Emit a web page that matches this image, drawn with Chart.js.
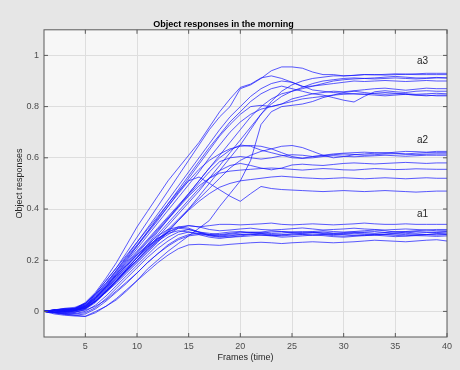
<!DOCTYPE html>
<html>
<head>
<meta charset="utf-8">
<script src="https://cdn.jsdelivr.net/npm/chart.js@4.4.1/dist/chart.umd.min.js"></script>
<style>
  html, body { margin: 0; padding: 0; background: #e6e6e6; }
  #wrap { width: 460px; height: 370px; }
</style>
</head>
<body>
<div id="wrap"><canvas id="chart" width="460" height="370"></canvas></div>
<script>
// frames 1..40
const frames = [1, 2, 3, 4, 5, 6, 7, 8, 9, 10, 11, 12, 13, 14, 15, 16, 17, 18, 19, 20,
  21, 22, 23, 24, 25, 26, 27, 28, 29, 30, 31, 32, 33, 34, 35, 36, 37, 38, 39, 40];

const xTicks = [5, 10, 15, 20, 25, 30, 35, 40];
const yTicks = [0, 0.2, 0.4, 0.6, 0.8, 1];

// group a1 - settles near 0.3
const groupA1 = [
  [0, 0.005, 0.002, 0.008, 0.02, 0.05, 0.09, 0.13, 0.17, 0.21, 0.25, 0.28, 0.31, 0.33, 0.335, 0.33, 0.335, 0.34, 0.34, 0.338, 0.34, 0.342, 0.345, 0.34, 0.338, 0.34, 0.342, 0.34, 0.338, 0.34, 0.342, 0.345, 0.342, 0.34, 0.34, 0.342, 0.34, 0.34, 0.34, 0.34],
  [0, 0.003, -0.004, 0.002, 0.015, 0.04, 0.075, 0.115, 0.16, 0.2, 0.24, 0.275, 0.3, 0.325, 0.335, 0.33, 0.32, 0.315, 0.318, 0.322, 0.325, 0.32, 0.318, 0.32, 0.323, 0.326, 0.322, 0.318, 0.32, 0.322, 0.325, 0.322, 0.32, 0.318, 0.32, 0.322, 0.32, 0.318, 0.32, 0.32],
  [0, -0.005, -0.01, -0.008, 0, 0.025, 0.06, 0.1, 0.14, 0.18, 0.22, 0.26, 0.29, 0.31, 0.32, 0.31, 0.3, 0.305, 0.31, 0.312, 0.308, 0.31, 0.315, 0.312, 0.31, 0.308, 0.312, 0.315, 0.312, 0.31, 0.312, 0.315, 0.318, 0.315, 0.31, 0.312, 0.315, 0.318, 0.315, 0.315],
  [0, 0.006, 0.01, 0.004, 0.012, 0.04, 0.08, 0.12, 0.165, 0.21, 0.25, 0.285, 0.31, 0.325, 0.32, 0.31, 0.305, 0.3, 0.305, 0.31, 0.308, 0.305, 0.31, 0.312, 0.308, 0.305, 0.308, 0.31, 0.306, 0.304, 0.308, 0.31, 0.312, 0.308, 0.305, 0.31, 0.312, 0.31, 0.308, 0.31],
  [0, -0.003, 0.002, -0.002, 0.005, 0.02, 0.045, 0.08, 0.115, 0.15, 0.19, 0.225, 0.26, 0.285, 0.3, 0.305, 0.3, 0.298, 0.302, 0.306, 0.31, 0.308, 0.304, 0.306, 0.31, 0.312, 0.31, 0.306, 0.304, 0.308, 0.31, 0.308, 0.305, 0.308, 0.312, 0.31, 0.306, 0.308, 0.31, 0.312],
  [0, 0.004, 0, 0.006, 0.018, 0.045, 0.085, 0.13, 0.175, 0.22, 0.26, 0.295, 0.32, 0.33, 0.325, 0.31, 0.295, 0.29, 0.295, 0.3, 0.302, 0.305, 0.3, 0.298, 0.302, 0.305, 0.308, 0.304, 0.3, 0.302, 0.305, 0.303, 0.3, 0.302, 0.306, 0.305, 0.302, 0.3, 0.304, 0.305],
  [0, -0.006, -0.012, -0.015, -0.01, 0.01, 0.04, 0.075, 0.11, 0.15, 0.19, 0.225, 0.255, 0.28, 0.295, 0.3, 0.298, 0.295, 0.298, 0.3, 0.302, 0.298, 0.296, 0.3, 0.303, 0.3, 0.297, 0.3, 0.302, 0.3, 0.298, 0.296, 0.298, 0.3, 0.302, 0.3, 0.298, 0.3, 0.302, 0.3],
  [0, 0.002, 0.008, 0.012, 0.025, 0.055, 0.095, 0.14, 0.18, 0.22, 0.255, 0.285, 0.305, 0.315, 0.31, 0.3, 0.29, 0.285, 0.29, 0.295, 0.3, 0.302, 0.298, 0.295, 0.298, 0.3, 0.302, 0.3, 0.296, 0.294, 0.297, 0.3, 0.302, 0.3, 0.297, 0.295, 0.298, 0.3, 0.298, 0.3],
  [0, -0.004, -0.008, -0.01, -0.005, 0.015, 0.05, 0.09, 0.13, 0.17, 0.21, 0.245, 0.275, 0.3, 0.31, 0.305, 0.298, 0.292, 0.29, 0.292, 0.295, 0.298, 0.295, 0.29, 0.292, 0.295, 0.298, 0.296, 0.292, 0.29, 0.293, 0.296, 0.298, 0.295, 0.292, 0.294, 0.296, 0.295, 0.293, 0.295],
  [0, -0.01, -0.015, -0.018, -0.02, -0.005, 0.02, 0.05, 0.085, 0.12, 0.155, 0.19, 0.22, 0.245, 0.26, 0.262, 0.26, 0.258, 0.262, 0.265, 0.268, 0.27, 0.268, 0.265, 0.268, 0.27, 0.272, 0.27, 0.268, 0.27, 0.272, 0.275, 0.278, 0.276, 0.274, 0.272, 0.275, 0.278, 0.28, 0.275]
];

// group a2 - settles between 0.47 and 0.63
const groupA2 = [
  [0, 0.004, 0.008, 0.01, 0.025, 0.06, 0.1, 0.145, 0.19, 0.235, 0.28, 0.325, 0.37, 0.415, 0.46, 0.51, 0.56, 0.6, 0.63, 0.65, 0.645, 0.63, 0.62, 0.61, 0.6, 0.598, 0.605, 0.61, 0.615, 0.618, 0.62, 0.622, 0.62, 0.618, 0.622, 0.625, 0.624, 0.622, 0.625, 0.625],
  [0, -0.004, -0.006, -0.002, 0.01, 0.04, 0.08, 0.12, 0.16, 0.2, 0.24, 0.28, 0.32, 0.36, 0.4, 0.44, 0.48, 0.52, 0.56, 0.59, 0.61, 0.625, 0.635, 0.645, 0.648, 0.64, 0.625, 0.61, 0.6, 0.605, 0.612, 0.615, 0.618, 0.62, 0.618, 0.615, 0.618, 0.62, 0.62, 0.62],
  [0, 0.006, 0.002, 0.008, 0.022, 0.055, 0.095, 0.14, 0.185, 0.23, 0.275, 0.32, 0.365, 0.41, 0.455, 0.5, 0.545, 0.585, 0.6, 0.605, 0.6, 0.595, 0.6, 0.608, 0.612, 0.61, 0.605, 0.608, 0.612, 0.615, 0.613, 0.61, 0.612, 0.615, 0.616, 0.614, 0.612, 0.614, 0.615, 0.615],
  [0, 0.002, 0.006, 0.012, 0.03, 0.065, 0.11, 0.16, 0.21, 0.26, 0.31, 0.36, 0.41, 0.46, 0.51, 0.555, 0.59, 0.615, 0.635, 0.645, 0.648, 0.645, 0.635, 0.62, 0.605, 0.598, 0.6, 0.605, 0.608, 0.606, 0.604, 0.606, 0.608, 0.61, 0.608, 0.606, 0.608, 0.61, 0.61, 0.61],
  [0, -0.004, 0, 0.004, 0.015, 0.045, 0.085, 0.125, 0.165, 0.21, 0.255, 0.3, 0.345, 0.39, 0.435, 0.48, 0.52, 0.55, 0.57, 0.578, 0.57, 0.56, 0.553, 0.56, 0.572, 0.575, 0.572, 0.57, 0.574, 0.578, 0.58, 0.578, 0.576, 0.578, 0.58, 0.582, 0.58, 0.578, 0.58, 0.58],
  [0, 0.005, 0.01, 0.006, 0.02, 0.05, 0.09, 0.135, 0.18, 0.225, 0.27, 0.315, 0.36, 0.405, 0.45, 0.49, 0.52, 0.54, 0.548, 0.552, 0.555, 0.558, 0.56, 0.558, 0.555, 0.552, 0.555, 0.558, 0.556, 0.553, 0.552, 0.555, 0.558, 0.556, 0.554, 0.555, 0.557, 0.556, 0.555, 0.555],
  [0, 0.003, -0.003, 0.002, 0.012, 0.04, 0.075, 0.115, 0.155, 0.195, 0.235, 0.275, 0.315, 0.355, 0.395, 0.43, 0.46, 0.485, 0.5, 0.51, 0.515, 0.52, 0.525, 0.528, 0.525, 0.522, 0.52, 0.518, 0.52, 0.522, 0.52, 0.518, 0.52, 0.522, 0.52, 0.518, 0.52, 0.522, 0.52, 0.52],
  [0, 0.006, 0.012, 0.016, 0.032, 0.07, 0.12, 0.17, 0.22, 0.27, 0.32, 0.37, 0.42, 0.47, 0.51, 0.525, 0.5, 0.475, 0.45, 0.43, 0.46, 0.488, 0.48, 0.476, 0.474, 0.472, 0.47, 0.468, 0.47, 0.472, 0.47, 0.468, 0.47, 0.472, 0.47, 0.468, 0.466, 0.468, 0.47, 0.47]
];

// group a3 - settles between 0.84 and 0.93
const groupA3 = [
  [0, 0.004, 0.008, 0.012, 0.03, 0.07, 0.12, 0.17, 0.23, 0.29, 0.35, 0.41, 0.47, 0.53, 0.59, 0.65, 0.71, 0.76, 0.8, 0.87, 0.885, 0.91, 0.94, 0.955, 0.955, 0.95, 0.935, 0.925, 0.925, 0.92, 0.922, 0.925, 0.924, 0.926, 0.928, 0.927, 0.928, 0.93, 0.93, 0.93],
  [0, 0.006, 0.003, 0.01, 0.035, 0.075, 0.13, 0.19, 0.26, 0.33, 0.39, 0.45, 0.51, 0.56, 0.61, 0.66, 0.72, 0.78, 0.83, 0.875, 0.888, 0.912, 0.92, 0.91, 0.895, 0.878, 0.88, 0.89, 0.9, 0.905, 0.908, 0.91, 0.908, 0.91, 0.912, 0.91, 0.908, 0.91, 0.912, 0.912],
  [0, -0.004, 0.002, 0.006, 0.02, 0.055, 0.1, 0.15, 0.2, 0.255, 0.31, 0.365, 0.42, 0.475, 0.53, 0.585, 0.64, 0.69, 0.74, 0.78, 0.82, 0.85, 0.87, 0.88, 0.87, 0.86, 0.85, 0.845, 0.835, 0.825, 0.818, 0.84, 0.858, 0.862, 0.858, 0.855, 0.86, 0.862, 0.86, 0.86],
  [0, -0.005, -0.01, -0.015, -0.019, 0, 0.02, 0.045, 0.08, 0.12, 0.165, 0.2, 0.235, 0.265, 0.295, 0.325, 0.355, 0.41, 0.46, 0.51, 0.59, 0.73, 0.78, 0.8, 0.805, 0.81, 0.82, 0.835, 0.845, 0.855, 0.86, 0.855, 0.85, 0.848, 0.85, 0.848, 0.845, 0.845, 0.842, 0.842],
  [0, 0.002, -0.002, 0.004, 0.012, 0.04, 0.08, 0.12, 0.16, 0.2, 0.245, 0.29, 0.335, 0.38, 0.425, 0.47, 0.52, 0.57, 0.62, 0.67, 0.72, 0.77, 0.81, 0.84, 0.86, 0.875, 0.89, 0.9, 0.905, 0.91, 0.912, 0.91, 0.912, 0.915, 0.918, 0.915, 0.912, 0.912, 0.914, 0.912],
  [0, 0.005, 0.01, 0.008, 0.025, 0.06, 0.105, 0.155, 0.205, 0.255, 0.305, 0.355, 0.41, 0.465, 0.52, 0.575, 0.63, 0.685, 0.73, 0.77, 0.8, 0.805, 0.8, 0.81, 0.83, 0.84, 0.85, 0.855, 0.86, 0.858, 0.862, 0.866, 0.87, 0.872, 0.868, 0.864, 0.868, 0.872, 0.87, 0.87],
  [0, -0.003, 0.004, 0.008, 0.015, 0.04, 0.075, 0.11, 0.15, 0.19, 0.23, 0.27, 0.31, 0.355, 0.4, 0.45, 0.5, 0.55, 0.6, 0.65, 0.71, 0.77, 0.82, 0.86, 0.885, 0.9, 0.91, 0.915, 0.92, 0.92, 0.922, 0.925, 0.925, 0.923, 0.925, 0.926, 0.925, 0.925, 0.925, 0.925],
  [0, 0.003, 0.006, 0.012, 0.03, 0.065, 0.11, 0.16, 0.215, 0.27, 0.325, 0.38, 0.435, 0.49, 0.545, 0.6, 0.655, 0.71, 0.76, 0.8, 0.84, 0.87, 0.89, 0.9, 0.895, 0.88, 0.865, 0.86, 0.855, 0.852, 0.85, 0.848, 0.852, 0.855, 0.852, 0.85, 0.848, 0.85, 0.852, 0.85],
  [0, -0.002, -0.006, -0.004, 0.008, 0.035, 0.075, 0.12, 0.165, 0.21, 0.26, 0.31, 0.36, 0.41, 0.46, 0.51, 0.56, 0.61, 0.66, 0.71, 0.76, 0.8, 0.83, 0.85, 0.86, 0.87, 0.88, 0.885, 0.89, 0.895, 0.9, 0.898, 0.9, 0.902, 0.9, 0.898, 0.9, 0.902, 0.9, 0.9],
  [0, 0.004, 0, 0.003, 0.018, 0.05, 0.095, 0.145, 0.195, 0.245, 0.295, 0.345, 0.395, 0.445, 0.495, 0.545, 0.6, 0.65, 0.7, 0.74, 0.77, 0.79, 0.8, 0.81, 0.82, 0.83, 0.835, 0.84, 0.845, 0.848, 0.85, 0.848, 0.845, 0.842, 0.845, 0.848, 0.845, 0.842, 0.845, 0.845]
];

// text labels placed in data coordinates
const groupNames = ['a1', 'a2', 'a3'];
const groupLabelX = [37.1, 37.1, 37.1];
const groupLabelY = [0.378, 0.669, 0.979];

const lineColor = 'rgba(20, 20, 255, 0.7)';
const axisColor = '#5a5a5a';
const fontFamily = '"Liberation Sans", Arial, Helvetica, sans-serif';

const makeDataset = (values) => ({
  data: values,
  borderColor: lineColor,
  borderWidth: 1,
  pointRadius: 0,
  fill: false,
  tension: 0,
});

const datasets = [...groupA1, ...groupA2, ...groupA3].map(makeDataset);

// grey figure, light axes background, box with inward ticks, group labels
const matlabFrame = {
  id: 'matlabFrame',
  beforeDraw(chart) {
    const {ctx, chartArea: a} = chart;
    ctx.save();
    ctx.fillStyle = '#e6e6e6';
    ctx.fillRect(0, 0, chart.width, chart.height);
    ctx.fillStyle = '#f7f7f7';
    ctx.fillRect(a.left, a.top, a.right - a.left, a.bottom - a.top);
    ctx.restore();
  },
  afterDraw(chart) {
    const {ctx, chartArea: a, scales} = chart;
    const tick = 4;
    ctx.save();
    ctx.strokeStyle = axisColor;
    ctx.lineWidth = 1;
    ctx.strokeRect(a.left, a.top, a.right - a.left, a.bottom - a.top);
    ctx.beginPath();
    xTicks.forEach(v => {
      const px = scales.x.getPixelForValue(v);
      ctx.moveTo(px, a.bottom); ctx.lineTo(px, a.bottom - tick);
      ctx.moveTo(px, a.top); ctx.lineTo(px, a.top + tick);
    });
    yTicks.forEach(v => {
      const py = scales.y.getPixelForValue(v);
      ctx.moveTo(a.left, py); ctx.lineTo(a.left + tick, py);
      ctx.moveTo(a.right, py); ctx.lineTo(a.right - tick, py);
    });
    ctx.stroke();

    ctx.fillStyle = '#262626';
    ctx.font = '10px ' + fontFamily;
    ctx.textAlign = 'left';
    ctx.textBaseline = 'middle';
    groupNames.forEach((name, i) => {
      ctx.fillText(name, scales.x.getPixelForValue(groupLabelX[i]), scales.y.getPixelForValue(groupLabelY[i]));
    });
    ctx.restore();
  }
};

const config = {
  type: 'line',
  data: {
    labels: frames,
    datasets: datasets
  },
  options: {
    animation: false,
    responsive: false,
    layout: {padding: {left: 0, right: 13, top: 0, bottom: 0}},
    scales: {
      x: {
        type: 'linear',
        min: 1,
        max: 40,
        afterBuildTicks: scale => { scale.ticks = xTicks.map(v => ({value: v})); },
        afterFit: scale => { scale.height = 33; },
        grid: {color: '#dedede', drawTicks: false},
        border: {display: false},
        ticks: {
          padding: 4,
          color: '#4d4d4d',
          font: {family: fontFamily, size: 9},
          maxRotation: 0,
          callback: v => String(v)
        },
        title: {
          display: true,
          text: 'Frames (time)',
          color: '#262626',
          font: {family: fontFamily, size: 9},
          padding: {top: 0, bottom: 7}
        }
      },
      y: {
        type: 'linear',
        min: -0.1,
        max: 1.1,
        afterBuildTicks: scale => { scale.ticks = yTicks.map(v => ({value: v})); },
        afterFit: scale => { scale.width = 44; },
        grid: {color: '#dedede', drawTicks: false},
        border: {display: false},
        ticks: {
          padding: 5,
          color: '#4d4d4d',
          font: {family: fontFamily, size: 9},
          callback: v => String(Math.round(v * 10) / 10)
        },
        title: {
          display: true,
          text: 'Object responses',
          color: '#262626',
          font: {family: fontFamily, size: 9},
          padding: {top: 14, bottom: 0}
        }
      }
    },
    plugins: {
      legend: {display: false},
      tooltip: {enabled: false},
      title: {
        display: true,
        text: 'Object responses in the morning',
        color: '#000000',
        font: {family: fontFamily, size: 9, weight: 'bold'},
        padding: {top: 19, bottom: 0}
      }
    }
  },
  plugins: [matlabFrame]
};

const chart = new Chart(document.getElementById('chart'), config);
</script>
</body>
</html>
